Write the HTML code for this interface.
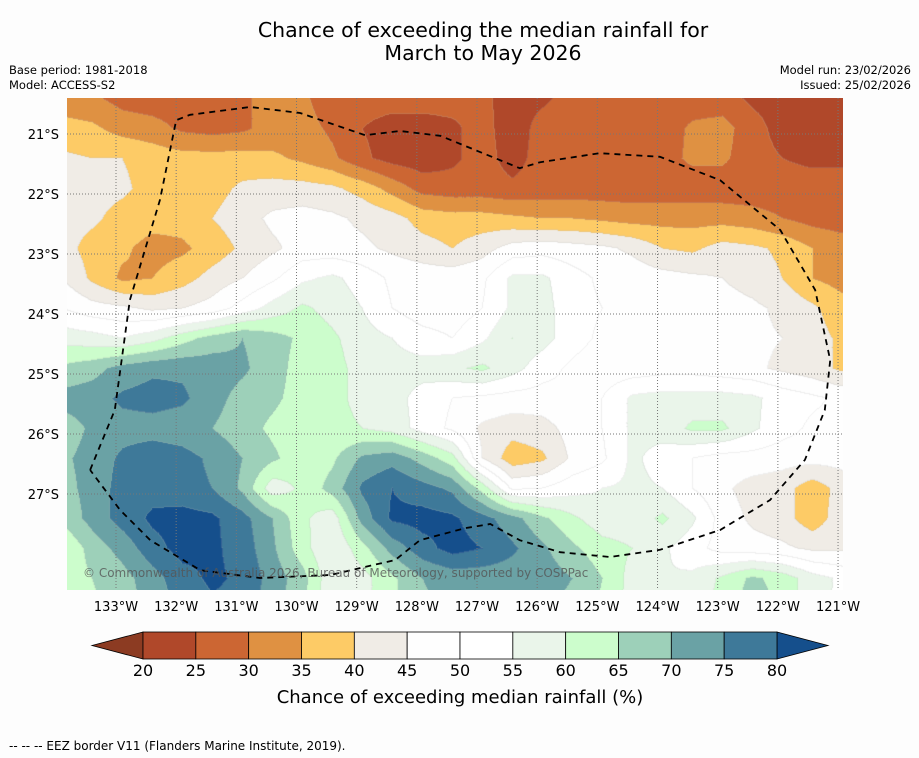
<!DOCTYPE html>
<html><head><meta charset="utf-8"><style>
body{margin:0;background:#fdfdfd;font-family:"DejaVu Sans","Liberation Sans",sans-serif;}
#wrap{position:relative;width:919px;height:758px;overflow:hidden;background:#fdfdfd}
.t{position:absolute;white-space:nowrap;color:#000}
</style></head><body>
<div id="wrap">
<div class="t" style="left:0;width:966px;text-align:center;top:19px;font-size:20.5px;line-height:23px">Chance of exceeding the median rainfall for<br>March to May 2026</div>
<div class="t" style="left:9px;top:63px;font-size:11.5px;line-height:15px">Base period: 1981-2018<br>Model: ACCESS-S2</div>
<div class="t" style="right:8px;top:63px;font-size:11.5px;line-height:15px;text-align:right">Model run: 23/02/2026<br>Issued: 25/02/2026</div>
<canvas id="map" width="776" height="492" style="position:absolute;left:67px;top:98px"></canvas>
<svg id="ov" width="919" height="758" style="position:absolute;left:0;top:0"></svg>
<div class="t" style="left:9px;top:739px;font-size:12px">--  --  -- EEZ border V11 (Flanders Marine Institute, 2019).</div>
</div>
<script>
const lonTicks=['133°W','132°W','131°W','130°W','129°W','128°W','127°W','126°W','125°W','124°W','123°W','122°W','121°W'];
const latTicks=['21°S','22°S','23°S','24°S','25°S','26°S','27°S'];
const binEdges=[20,25,30,35,40,45,50,55,60,65,70,75,80];
const binColors=['#8c3b22','#b0482a','#cc6633','#df9142','#fdcb66','#f0ece6','#fefefe','#ffffff','#eaf5ea','#ccfdcc','#9dd0b9','#6aa2a5','#3e7999','#154f8c'];
// grid: columns every 0.5° lon (x=62+30i), rows every 0.5° lat (y=98+30j)
const grid=[
[32,31,28,27,27,27,29,32,31,27,27,27,27,27,26,23,24,27,27,27,27,27,27,24,23,22,22],
[37,36,33,32,29,28,29,32,32,29,25,23,23,24,27,22,27,27,27,27,27,31,32,27,23,23,23],
[41,40,40,38,37,37,37,36,34,31,26,23,22,24,27,23,27,27,27,28,28,31,31,27,25,24,24],
[42,42,41,38,36,38,41,42,42,41,38,33,28,27,27,26,27,27,27,27,27,27,27,27,27,27,27],
[42,41,38,37,37,40,43,46,47,46,44,42,38,37,37,36,35,35,34,33,33,33,33,32,30,28,27],
[42,38,36,33,34,37,41,44,47,47,46,44,42,40,43,47,48,47,46,44,40,39,42,41,39,35,33],
[45,39,34,35,38,42,45,49,54,56,53,49,48,48,49,56,56,52,49,48,47,46,45,43,40,35,33],
[50,47,46,44,45,47,52,57,61,58,55,50,47,47,50,56,57,52,50,48,48,48,47,46,44,41,37],
[58,57,55,58,63,67,70,67,64,61,57,55,52,50,54,60,57,52,49,47,47,47,48,46,45,42,39],
[66,68,72,74,74,73,71,67,63,62,58,57,57,59,61,57,52,49,47,47,48,48,47,46,44,42,39],
[72,73,76,77,76,72,68,66,63,61,59,57,53,50,49,48,48,49,50,56,57,57,57,56,53,51,49],
[67,71,73,73,72,70,67,64,62,61,60,58,53,49,44,42,43,47,50,56,57,61,61,56,52,49,48],
[69,72,76,78,77,74,70,66,62,64,71,73,68,62,45,37,39,46,49,56,53,50,48,48,47,47,47],
[68,72,77,78,77,75,69,57,61,67,76,80,77,74,63,49,50,53,55,56,55,50,46,43,42,37,42],
[66,72,77,81,82,81,77,70,61,57,72,81,82,81,77,72,66,61,57,57,61,56,48,44,42,37,43],
[60,67,72,78,82,81,78,71,62,55,63,72,78,82,80,76,71,66,62,60,56,52,48,47,46,44,44],
[62,65,68,73,78,81,79,73,67,56,58,64,70,72,72,72,73,70,65,58,55,56,61,66,63,57,54],
[62,64,67,72,76,79,78,72,66,56,58,64,69,71,71,71,71,68,64,58,56,57,62,68,64,57,54]];
const eezLon=[-133.43,-133.02,-132.77,-132.27,-132.0,-131.77,-130.77,-129.94,-128.86,-128.28,-127.61,-126.29,-125.95,-124.96,-123.96,-122.96,-121.96,-121.38,-121.13,-121.22,-121.55,-122.13,-122.96,-123.96,-124.79,-125.62,-126.29,-126.78,-127.2,-127.95,-128.36,-129.44,-130.61,-131.6,-132.43,-132.93,-133.43];
const eezLat=[-26.6,-25.6,-23.77,-22.1,-20.77,-20.68,-20.55,-20.65,-21.02,-20.95,-21.03,-21.57,-21.47,-21.32,-21.38,-21.77,-22.6,-23.6,-24.77,-25.6,-26.43,-27.1,-27.6,-27.93,-28.05,-27.97,-27.77,-27.5,-27.57,-27.77,-28.1,-28.35,-28.4,-28.27,-27.77,-27.27,-26.6];
const xOfLon=l=>116+(l+133)*60.17;
const yOfLat=l=>134+(-l-21)*60;
const NS='http://www.w3.org/2000/svg';
function binIndex(v){let k=0;while(k<binEdges.length&&v>=binEdges[k])k++;return k;}
function hex(c){return [parseInt(c.substr(1,2),16),parseInt(c.substr(3,2),16),parseInt(c.substr(5,2),16)];}
const rgb=binColors.map(hex);
const cv=document.getElementById('map'),ctx=cv.getContext('2d');
const W=776,H=492,img=ctx.createImageData(W,H);
const bins=new Int8Array(W*H);
const R=grid.length,C=grid[0].length;
for(let py=0;py<H;py++){
  const gy=py/30;let j=Math.min(Math.floor(gy),R-2);const fy=gy-j;
  for(let px=0;px<W;px++){
    const gx=(px+5)/30;let i=Math.min(Math.floor(gx),C-2);const fx=gx-i;
    const v=grid[j][i]*(1-fx)*(1-fy)+grid[j][i+1]*fx*(1-fy)+grid[j+1][i]*(1-fx)*fy+grid[j+1][i+1]*fx*fy;
    bins[py*W+px]=binIndex(v);
  }
}
for(let py=0;py<H;py++)for(let px=0;px<W;px++){
  const b=bins[py*W+px];let c=rgb[b].slice();
  const edge=(px<W-1&&bins[py*W+px+1]!==b)||(py<H-1&&bins[(py+1)*W+px]!==b);
  if(edge){c=c.map(v=>Math.round(v*0.8+180*0.2));}
  const o=(py*W+px)*4;img.data[o]=c[0];img.data[o+1]=c[1];img.data[o+2]=c[2];img.data[o+3]=255;
}
ctx.putImageData(img,0,0);
const svg=document.getElementById('ov');
function mk(tag,attrs){const e=document.createElementNS(NS,tag);for(const k in attrs)e.setAttribute(k,attrs[k]);svg.appendChild(e);return e;}
lonTicks.forEach((t,k)=>{const x=xOfLon(-133+k);
  const g=mk('line',{x1:x,x2:x,y1:98,y2:590,stroke:'#777','stroke-width':1,'stroke-dasharray':'1,2'});
  
  
  const tx=mk('text',{x:x,y:611,'font-size':13,'text-anchor':'middle','font-family':'DejaVu Sans, sans-serif'});tx.textContent=t;
  
  
});
latTicks.forEach((t,k)=>{const y=yOfLat(-21-k);
  const g=mk('line',{x1:67,x2:843,y1:y,y2:y,stroke:'#777','stroke-width':1,'stroke-dasharray':'1,2'});
  
  
  const tx=mk('text',{x:59,y:y+5,'font-size':13,'text-anchor':'end','font-family':'DejaVu Sans, sans-serif'});tx.textContent=t;
  
  
});
const pts=eezLon.map((l,k)=>xOfLon(l)+','+yOfLat(eezLat[k])).join(' ');
const cp=mk('clipPath',{id:'mc'});const cr=document.createElementNS(NS,'rect');cr.setAttribute('x',67);cr.setAttribute('y',98);cr.setAttribute('width',776);cr.setAttribute('height',492);cp.appendChild(cr);
const eez=mk('polyline',{points:pts,fill:'none',stroke:'#000','stroke-width':1.8,'stroke-dasharray':'6,5','clip-path':'url(#mc)'});


const cop=mk('text',{x:83,y:577,'font-size':12,fill:'#555','fill-opacity':0.8,'font-family':'DejaVu Sans, sans-serif'});cop.textContent='© Commonwealth of Australia 2026, Bureau of Meteorology, supported by COSPPac';


const cbX=v=>143+(v-20)*(777-143)/60;
const cy0=632,cy1=659;
const lt=mk('polygon',{points:`92,645.5 143,${cy0} 143,${cy1}`,fill:binColors[0],stroke:'#000','stroke-width':0.8});


const rt=mk('polygon',{points:`828,645.5 777,${cy0} 777,${cy1}`,fill:binColors[13],stroke:'#000','stroke-width':0.8});


for(let k=0;k<binEdges.length-1;k++){
  const r=mk('rect',{x:cbX(binEdges[k]),y:cy0,width:cbX(binEdges[k+1])-cbX(binEdges[k]),height:cy1-cy0,fill:binColors[k+1],stroke:'#000','stroke-width':0.8});
  
  
}
[20,25,30,35,40,45,50,55,60,65,70,75,80].forEach(v=>{
  const tx=mk('text',{x:cbX(v),y:676,'font-size':16,'text-anchor':'middle','font-family':'DejaVu Sans, sans-serif'});tx.textContent=v;
  
  
});
const ct=mk('text',{x:460,y:703,'font-size':18,'text-anchor':'middle','font-family':'DejaVu Sans, sans-serif'});ct.textContent='Chance of exceeding median rainfall (%)';


</script>
</body></html>
